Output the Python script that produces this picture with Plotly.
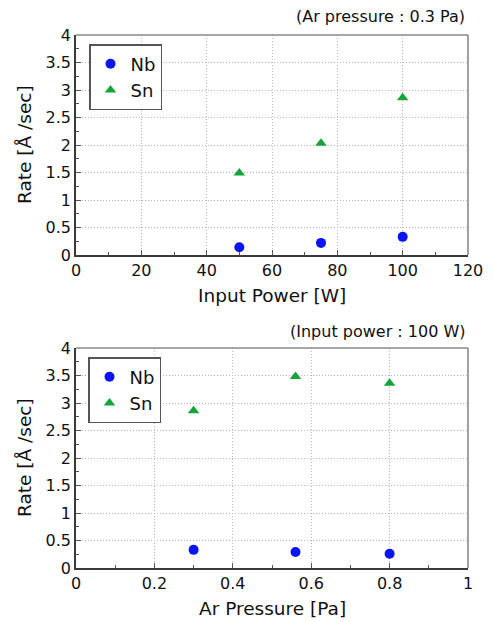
import plotly.graph_objects as go

# Top chart: Ar pressure 0.3 Pa
power_w = [50, 75, 100]
nb_rate_power = [0.14, 0.22, 0.33]
sn_rate_power = [1.49, 2.03, 2.86]

# Bottom chart: input power 100 W
pressure_pa = [0.3, 0.56, 0.8]
nb_rate_pressure = [0.33, 0.29, 0.26]
sn_rate_pressure = [2.86, 3.48, 3.36]

y_ticks = [0, 0.5, 1, 1.5, 2, 2.5, 3, 3.5, 4]

FONT = "DejaVu Sans"
NB_COLOR = "#0a14f5"
SN_COLOR = "#16a33a"
W, H = 493, 622

fig = go.Figure()

fig.add_trace(go.Scatter(x=power_w, y=nb_rate_power, mode="markers", name="Nb",
                         marker=dict(symbol="circle", size=10, color=NB_COLOR),
                         xaxis="x", yaxis="y", legend="legend"))
fig.add_trace(go.Scatter(x=power_w, y=sn_rate_power, mode="markers", name="Sn",
                         marker=dict(symbol="triangle-up", size=10, color=SN_COLOR),
                         xaxis="x", yaxis="y", legend="legend"))
fig.add_trace(go.Scatter(x=pressure_pa, y=nb_rate_pressure, mode="markers", name="Nb",
                         marker=dict(symbol="circle", size=10, color=NB_COLOR),
                         xaxis="x2", yaxis="y2", legend="legend2"))
fig.add_trace(go.Scatter(x=pressure_pa, y=sn_rate_pressure, mode="markers", name="Sn",
                         marker=dict(symbol="triangle-up", size=10, color=SN_COLOR),
                         xaxis="x2", yaxis="y2", legend="legend2"))

def px_x(p):
    return p / W

def px_y(p):
    return 1 - p / H

x_dom = [px_x(76), px_x(468)]
top_dom = [px_y(255), px_y(35)]
bot_dom = [px_y(568), px_y(348)]

common_axis = dict(
    automargin=False,
    showline=True, mirror=False, linecolor="#3a3a3a", linewidth=1.6,
    showgrid=True, gridcolor="#b8b8b8", griddash="1px,2px", gridwidth=1,
    zeroline=False, ticks="inside", ticklen=5, tickcolor="#555",
    tickfont=dict(family=FONT, size=16, color="#111"),
    fixedrange=True,
)

fig.update_layout(
    template="none",
    width=W, height=H,
    margin=dict(l=0, r=0, t=0, b=0, autoexpand=False),
    paper_bgcolor="white", plot_bgcolor="white",
    font=dict(family=FONT, color="#111"),
    xaxis=dict(domain=x_dom, anchor="y", range=[0, 120], tickvals=[0, 20, 40, 60, 80, 100, 120],
               minor=dict(ticks="inside", ticklen=3, dtick=10, tickcolor="#555", showgrid=False),
               **common_axis),
    yaxis=dict(domain=top_dom, anchor="x", range=[0, 4], tickvals=y_ticks,
               minor=dict(ticks="inside", ticklen=3, dtick=0.25, tickcolor="#555", showgrid=False),
               **common_axis),
    xaxis2=dict(domain=x_dom, anchor="y2", range=[0, 1], tickvals=[0, 0.2, 0.4, 0.6, 0.8, 1],
                minor=dict(ticks="inside", ticklen=3, dtick=0.1, tickcolor="#555", showgrid=False),
                **common_axis),
    yaxis2=dict(domain=bot_dom, anchor="x2", range=[0, 4], tickvals=y_ticks,
                minor=dict(ticks="inside", ticklen=3, dtick=0.25, tickcolor="#555", showgrid=False),
                **common_axis),
    legend=dict(x=px_x(89), y=px_y(44), xanchor="left", yanchor="top",
                bgcolor="white", bordercolor="#555", borderwidth=1.5,
                font=dict(family=FONT, size=18, color="#111"), itemwidth=30,
                tracegroupgap=0),
    legend2=dict(x=px_x(88), y=px_y(357), xanchor="left", yanchor="top",
                 bgcolor="white", bordercolor="#555", borderwidth=1.5,
                 font=dict(family=FONT, size=18, color="#111"), itemwidth=30,
                 tracegroupgap=0),
    showlegend=True,
)

# lighter top/right frame lines
shapes = []
for xa, ya in (("x", "y"), ("x2", "y2")):
    shapes.append(dict(type="line", xref=f"{xa} domain", yref=f"{ya} domain",
                       x0=0, x1=1, y0=1, y1=1, line=dict(color="#8a8a8a", width=1.6)))
    shapes.append(dict(type="line", xref=f"{xa} domain", yref=f"{ya} domain",
                       x0=1, x1=1, y0=0, y1=1, line=dict(color="#8a8a8a", width=1.6)))
fig.update_layout(shapes=shapes)

annots = [
    dict(text="(Ar pressure : 0.3 Pa)", x=px_x(467), y=px_y(17), xanchor="right", yanchor="middle",
         font=dict(size=16)),
    dict(text="(Input power : 100 W)", x=px_x(467), y=px_y(331), xanchor="right", yanchor="middle",
         font=dict(size=16)),
    dict(text="Input Power [W]", x=px_x(272), y=px_y(295), xanchor="center", yanchor="middle",
         font=dict(size=18.5)),
    dict(text="Ar Pressure [Pa]", x=px_x(272), y=px_y(608), xanchor="center", yanchor="middle",
         font=dict(size=18.5)),
    dict(text="Rate [Å /sec]", x=px_x(24), y=px_y(145), xanchor="center", yanchor="middle",
         textangle=-90, font=dict(size=18.5)),
    dict(text="Rate [Å /sec]", x=px_x(24), y=px_y(458), xanchor="center", yanchor="middle",
         textangle=-90, font=dict(size=18.5)),
]
for a in annots:
    a.update(xref="paper", yref="paper", showarrow=False)
    a["font"].update(family=FONT, color="#111")
fig.update_layout(annotations=annots)

fig.write_html(
    "out.html",
    config={"displayModeBar": False},
    post_script="document.body.style.margin='0px';document.body.style.overflow='hidden';",
)
